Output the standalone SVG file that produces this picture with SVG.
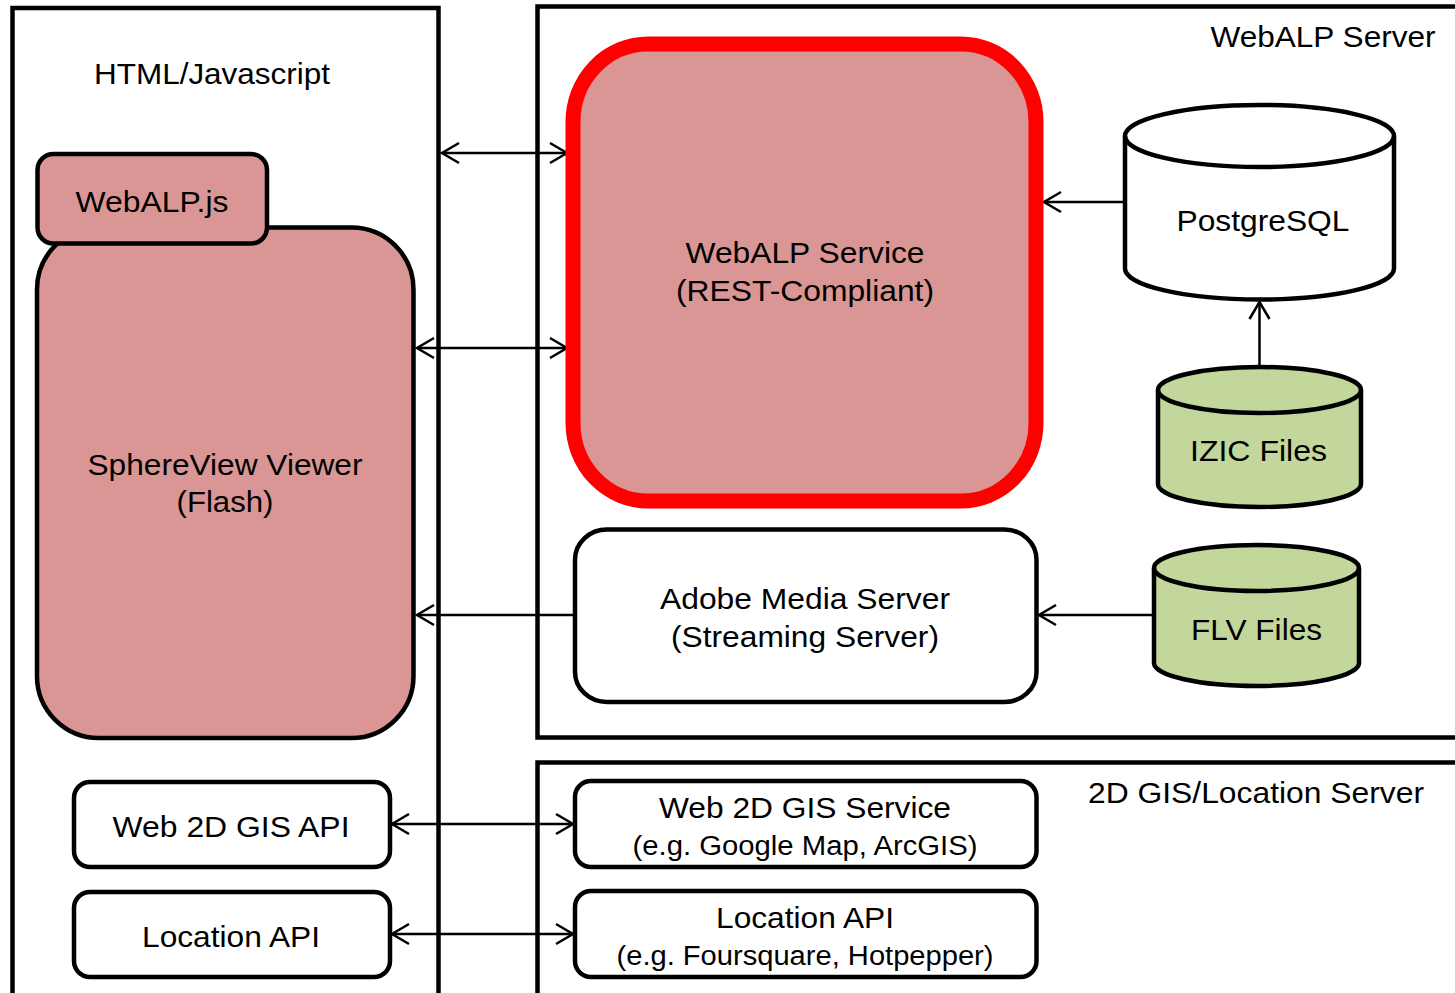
<svg xmlns="http://www.w3.org/2000/svg" width="1455" height="993" viewBox="0 0 1455 993">
  <style>
    .frame { fill: none; stroke: #000; stroke-width: 4.5; }
    .box { stroke: #000; stroke-width: 4.5; }
    .pink { fill: #d99694; }
    .white { fill: #fff; }
    .green { fill: #c3d69b; }
    .service { fill: #d99694; stroke: #ff0000; stroke-width: 15; }
    .label { font-family: "Liberation Sans", Arial, sans-serif; font-size: 29px; fill: #000; text-anchor: middle; }
    .link { fill: none; stroke: #000; stroke-width: 2.5; }
  </style>
  <defs>
    <marker id="head" markerUnits="userSpaceOnUse" markerWidth="24" markerHeight="24" viewBox="-20 -12 22 24" refX="0" refY="0" orient="auto-start-reverse">
      <path d="M -17 -10 L 0 0 L -17 10" fill="none" stroke="#000" stroke-width="2.5"/>
    </marker>
  </defs>

  <rect width="1455" height="993" fill="#fff"/>

  <!-- Tier frames -->
  <g id="client-frame">
    <rect class="frame" x="12.5" y="8" width="426" height="1000"/>
    <text class="label" x="212" y="84" textLength="236" lengthAdjust="spacingAndGlyphs">HTML/Javascript</text>
  </g>
  <g id="webalp-server-frame">
    <rect class="frame" x="537.5" y="6.5" width="940" height="731"/>
    <text class="label" x="1323" y="47" textLength="225" lengthAdjust="spacingAndGlyphs">WebALP Server</text>
  </g>
  <g id="gis-server-frame">
    <rect class="frame" x="537.5" y="762.5" width="940" height="250"/>
    <text class="label" x="1256" y="803" textLength="336" lengthAdjust="spacingAndGlyphs">2D GIS/Location Server</text>
  </g>

  <!-- Connectors -->
  <g id="connectors">
    <line class="link" x1="442" y1="153" x2="567" y2="153" marker-start="url(#head)" marker-end="url(#head)"/>
    <line class="link" x1="417" y1="348" x2="567" y2="348" marker-start="url(#head)" marker-end="url(#head)"/>
    <line class="link" x1="575" y1="615" x2="417" y2="615" marker-end="url(#head)"/>
    <line class="link" x1="1125" y1="202" x2="1044" y2="202" marker-end="url(#head)"/>
    <line class="link" x1="1259.5" y1="367" x2="1259.5" y2="302" marker-end="url(#head)"/>
    <line class="link" x1="1154" y1="615" x2="1039" y2="615" marker-end="url(#head)"/>
    <line class="link" x1="392" y1="824" x2="573" y2="824" marker-start="url(#head)" marker-end="url(#head)"/>
    <line class="link" x1="392" y1="934" x2="573" y2="934" marker-start="url(#head)" marker-end="url(#head)"/>
  </g>

  <!-- Client side -->
  <g id="sphereview-viewer">
    <rect class="box pink" x="37" y="227.5" width="376.5" height="510.5" rx="62" ry="62"/>
    <text class="label" x="225" y="475" textLength="275" lengthAdjust="spacingAndGlyphs">SphereView Viewer</text>
    <text class="label" x="225" y="512" textLength="97" lengthAdjust="spacingAndGlyphs">(Flash)</text>
  </g>
  <g id="webalp-js">
    <rect class="box pink" x="37.5" y="154" width="229.5" height="89.5" rx="16" ry="16"/>
    <text class="label" x="152" y="212" textLength="153" lengthAdjust="spacingAndGlyphs">WebALP.js</text>
  </g>
  <g id="web-2d-gis-api">
    <rect class="box white" x="74" y="782" width="316" height="85" rx="16" ry="16"/>
    <text class="label" x="231" y="837" textLength="237" lengthAdjust="spacingAndGlyphs">Web 2D GIS API</text>
  </g>
  <g id="location-api-client">
    <rect class="box white" x="74" y="892" width="316" height="85" rx="16" ry="16"/>
    <text class="label" x="231" y="947" textLength="178" lengthAdjust="spacingAndGlyphs">Location API</text>
  </g>

  <!-- WebALP server -->
  <g id="webalp-service">
    <rect class="service" x="573" y="44" width="463" height="457" rx="75" ry="78"/>
    <text class="label" x="805" y="263" textLength="239" lengthAdjust="spacingAndGlyphs">WebALP Service</text>
    <text class="label" x="805" y="301" textLength="258" lengthAdjust="spacingAndGlyphs">(REST-Compliant)</text>
  </g>
  <g id="postgresql">
    <path class="box white" d="M 1125 136 L 1125 268.5 A 134.5 31 0 0 0 1394 268.5 L 1394 136 A 134.5 31 0 0 0 1125 136 Z"/>
    <path class="box" fill="none" d="M 1125 136 A 134.5 31 0 0 0 1394 136"/>
    <text class="label" x="1263" y="231" textLength="173" lengthAdjust="spacingAndGlyphs">PostgreSQL</text>
  </g>
  <g id="izic-files">
    <path class="box green" d="M 1158 390 L 1158 484 A 101.5 23 0 0 0 1361 484 L 1361 390 A 101.5 23 0 0 0 1158 390 Z"/>
    <path class="box" fill="none" d="M 1158 390 A 101.5 23 0 0 0 1361 390"/>
    <text class="label" x="1258.5" y="461" textLength="137" lengthAdjust="spacingAndGlyphs">IZIC Files</text>
  </g>
  <g id="adobe-media-server">
    <rect class="box white" x="575" y="529.5" width="461.5" height="172.5" rx="32" ry="30"/>
    <text class="label" x="805" y="609" textLength="290" lengthAdjust="spacingAndGlyphs">Adobe Media Server</text>
    <text class="label" x="805" y="647" textLength="268" lengthAdjust="spacingAndGlyphs">(Streaming Server)</text>
  </g>
  <g id="flv-files">
    <path class="box green" d="M 1154 568 L 1154 663 A 102.5 23 0 0 0 1359 663 L 1359 568 A 102.5 23 0 0 0 1154 568 Z"/>
    <path class="box" fill="none" d="M 1154 568 A 102.5 23 0 0 0 1359 568"/>
    <text class="label" x="1256.5" y="640" textLength="131" lengthAdjust="spacingAndGlyphs">FLV Files</text>
  </g>

  <!-- 2D GIS / location server -->
  <g id="web-2d-gis-service">
    <rect class="box white" x="575" y="781" width="461.5" height="86" rx="16" ry="16"/>
    <text class="label" x="805" y="818" textLength="292" lengthAdjust="spacingAndGlyphs">Web 2D GIS Service</text>
    <text class="label" x="805" y="855" textLength="345" lengthAdjust="spacingAndGlyphs" style="font-size:27px">(e.g. Google Map, ArcGIS)</text>
  </g>
  <g id="location-api-server">
    <rect class="box white" x="575" y="891" width="461.5" height="86" rx="16" ry="16"/>
    <text class="label" x="805" y="928" textLength="178" lengthAdjust="spacingAndGlyphs">Location API</text>
    <text class="label" x="805" y="965" textLength="377" lengthAdjust="spacingAndGlyphs" style="font-size:27px">(e.g. Foursquare, Hotpepper)</text>
  </g>
</svg>
